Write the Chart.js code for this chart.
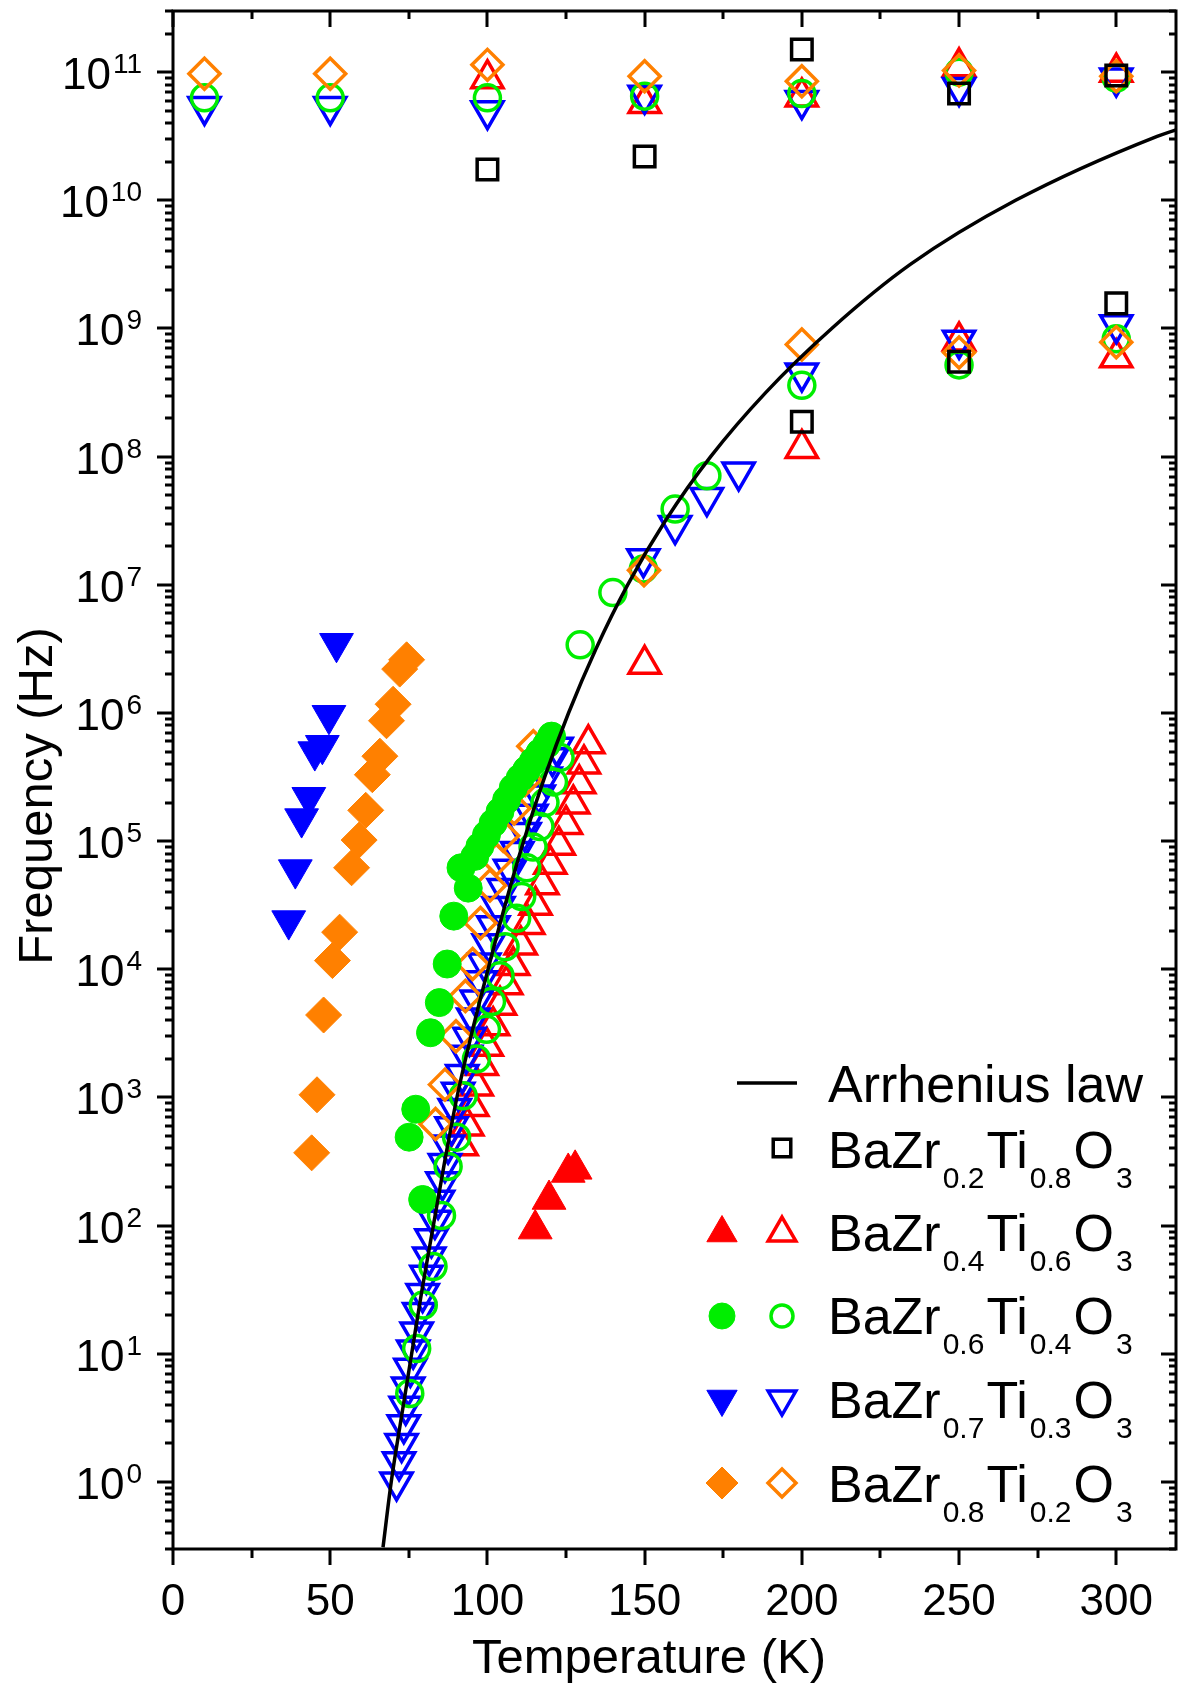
<!DOCTYPE html>
<html>
<head>
<meta charset="utf-8">
<title>Relaxation frequency vs temperature</title>
<script src="https://cdn.jsdelivr.net/npm/chart.js@4.4.1/dist/chart.umd.min.js"></script>
<style>
  html, body { margin: 0; padding: 0; background: #fff; }
  #wrap { width: 1178px; height: 1687px; }
</style>
</head>
<body>
<div id="wrap"><canvas id="freq-graph" width="1178" height="1687"></canvas></div>
<script>
// axis ranges and tick labels
var tempMin = 0, tempMax = 319;
var freqMin = 0.3, freqMax = 3e11;
var tempTicks = [0, 50, 100, 150, 200, 250, 300];
var freqDecades = [0, 1, 2, 3, 4, 5, 6, 7, 8, 9, 10, 11];

// Arrhenius law fit (T in K, f in Hz)
var arrhTemp = [66.8, 69.4, 72.6, 75.9, 79.2, 82.8, 86.4, 90.3, 95.0, 100.2, 105.6, 111.5, 118.2, 125.8, 134.5, 144.6, 156.6, 171.0, 188.5, 209.5, 234.5, 268.0, 313.0, 322.0];
var arrhFreq = [0.31, 1, 3.16, 10, 31.6, 100, 316, 1000, 3160, 1.0e4, 3.16e4, 1.0e5, 3.16e5, 1.0e6, 3.16e6, 1.0e7, 3.16e7, 1.0e8, 3.16e8, 1.0e9, 3.16e9, 1.0e10, 3.16e10, 3.75e10];

// BaZr0.2Ti0.8O3 (open squares)
var bzt20OpenTemp = [100, 150, 200, 200, 250, 250, 300, 300];
var bzt20OpenFreq = [1.74e10, 2.2e10, 1.5e11, 1.87e8, 6.8e10, 5.5e8, 9.4e10, 1.57e9];

// BaZr0.4Ti0.6O3 (up triangles)
var bzt40FilledTemp = [115.2, 119.6, 125.7, 127.9];
var bzt40FilledFreq = [94, 160, 260, 275];
var bzt40OpenTemp = [100, 150, 200, 250, 300, 150, 200, 250, 300,
  91.8, 93.6, 95.2, 96.6, 98.2, 99.8, 101.8, 104.0, 106.0, 108.2, 110.6,
  113.0, 115.3, 117.5, 120.0, 122.7, 125.0, 127.3, 129.2, 130.7, 132.1];
var bzt40OpenFreq = [8.9e10, 5.7e10, 6.4e10, 1.1e11, 1.0e11, 2.4e6, 1.16e8, 8.0e8, 5.9e8,
  420, 600, 850, 1230, 1780, 2510, 3630, 5250, 7590, 1.07e4, 1.55e4,
  2.24e4, 3.16e4, 4.57e4, 6.6e4, 9.3e4, 1.35e5, 1.95e5, 2.8e5, 4.0e5, 5.75e5];

// BaZr0.6Ti0.4O3 (circles)
var bzt60FilledTemp = [75.1, 77.2, 79.4, 81.9, 84.7, 87.2, 89.3, 91.6, 93.9, 96.0, 97.6,
  99.7, 101.8, 104.0, 106.1, 108.2, 110.4, 112.5, 114.6, 116.7, 118.9, 120.4];
var bzt60FilledFreq = [490, 810, 160, 3200, 5500, 1.1e4, 2.6e4, 6.2e4, 4.3e4, 7.6e4, 9.1e4,
  1.12e5, 1.38e5, 1.7e5, 2.1e5, 2.6e5, 3.1e5, 3.6e5, 4.2e5, 4.9e5, 5.7e5, 6.6e5];
var bzt60OpenTemp = [10, 50, 100, 150, 200, 250, 300, 200, 250, 300,
  75.3, 77.5, 79.6, 82.7, 85.4, 87.5, 90.2, 92.3, 96.5, 99.7, 101.3, 104.0, 105.6,
  109.3, 110.9, 112.5, 114.5, 116.7, 118.3, 121.0, 123.1, 129.5, 139.9, 149.6, 159.7, 169.8];
var bzt60OpenFreq = [6.3e10, 6.3e10, 6.3e10, 6.5e10, 6.8e10, 1.0e11, 9.0e10, 3.6e8, 5.2e8, 8.3e8,
  4.9, 11, 24, 48, 120, 290, 490, 1030, 2000, 3400, 5600, 8900, 1.5e4,
  2.5e4, 3.7e4, 6.2e4, 9.0e4, 1.3e5, 2.0e5, 2.9e5, 4.5e5, 3.4e6, 8.7e6, 1.33e7, 3.9e7, 7.1e7];

// BaZr0.7Ti0.3O3 (down triangles)
var bzt70FilledTemp = [52.0, 49.6, 47.5, 45.1, 43.2, 40.9, 38.9, 36.8];
var bzt70FilledFreq = [3.5e6, 9.6e5, 5.6e5, 5.0e5, 2.2e5, 1.5e5, 6.0e4, 2.4e4];
var bzt70OpenTemp = [10, 50, 100, 150, 200, 250, 300, 200, 250, 300,
  149.6, 159.7, 169.8, 179.9,
  71.1, 71.9, 72.7, 73.4, 74.0, 74.8, 75.5, 76.4, 77.5, 78.3, 79.4, 80.6, 81.5,
  82.2, 83.3, 84.3, 85.7, 86.5, 87.5, 88.6, 89.6, 90.7, 92.0, 93.2, 94.3, 95.5,
  96.6, 97.8, 99.0, 100.4, 101.9, 103.5, 105.2, 107.2, 109.5, 111.8, 114.0,
  116.3, 118.5, 120.7, 122.0];
var bzt70OpenFreq = [5.4e10, 5.4e10, 5.0e10, 6.6e10, 6.0e10, 7.6e10, 9.0e10, 4.5e8, 8.1e8, 1.07e9,
  1.6e7, 2.9e7, 4.8e7, 7.6e7,
  1.0, 1.44, 2.0, 2.8, 3.9, 5.5, 7.7, 10.7, 14.8, 21, 29.5, 41, 57,
  79, 110, 158, 220, 305, 425, 590, 820, 1100, 1510, 2140, 2950, 4170,
  5750, 8130, 1.12e4, 1.58e4, 2.19e4, 3.09e4, 4.27e4, 6.03e4, 8.32e4, 1.17e5, 1.62e5,
  2.29e5, 3.16e5, 4.47e5, 5.4e5];

// BaZr0.8Ti0.2O3 (diamonds)
var bzt80FilledTemp = [74.3, 72.1, 70.0, 67.9, 65.8, 63.4, 61.3, 59.2, 56.8, 53.0, 50.7, 47.9, 45.8, 44.1];
var bzt80FilledFreq = [2.6e6, 2.2e6, 1.17e6, 8.7e5, 4.6e5, 3.3e5, 1.74e5, 1.02e5, 6.2e4, 1.95e4, 1.17e4, 4400, 1050, 370];
var bzt80OpenTemp = [10, 50, 100, 150, 200, 250, 300, 200, 250, 300,
  83.5, 86.5, 90.0, 93.0, 95.3, 97.8, 100.8, 102.9, 105.0, 108.5, 112.0, 114.6, 149.8];
var bzt80OpenFreq = [9.7e10, 9.7e10, 1.14e11, 9.3e10, 8.5e10, 1.03e11, 9.3e10, 7.5e8, 6.5e8, 7.8e8,
  620, 1260, 3000, 6200, 1.1e4, 2.3e4, 4.5e4, 7.2e4, 1.1e5, 1.8e5, 3.0e5, 5.5e5, 1.3e7];

// legend text
var arrhLabel = 'Arrhenius law';
var zrFractions = ['0.2', '0.4', '0.6', '0.7', '0.8'];
var tiFractions = ['0.8', '0.6', '0.4', '0.3', '0.2'];

var FONT = '"Liberation Sans", Arial, Helvetica, sans-serif';
var RED = '#ff0000', GREEN = '#00ee00', BLUE = '#0000ff', ORANGE = '#ff8000';
var CLEAR = 'rgba(0,0,0,0)';

function toPoints(xs, ys) {
    return xs.map(function(x, i) { return { x: x, y: ys[i] }; });
}

function markerSet(label, xs, ys, style, color, filled, radius, rotation) {
    return {
        label: label,
        data: toPoints(xs, ys),
        showLine: false,
        pointStyle: style,
        pointRadius: radius,
        pointRotation: rotation || 0,
        pointBackgroundColor: filled ? color : CLEAR,
        pointBorderColor: color,
        pointBorderWidth: filled ? 1 : 3.5
    };
}

function drawMarker(ctx, style, color, filled, radius, rotation, x, y) {
    ctx.save();
    ctx.fillStyle = filled ? color : CLEAR;
    ctx.strokeStyle = color;
    ctx.lineWidth = filled ? 1 : 3.5;
    Chart.helpers.drawPoint(ctx, {
        pointStyle: style, radius: radius, rotation: rotation || 0,
        borderWidth: filled ? 1 : 3.5
    }, x, y);
    ctx.restore();
}

// frame, ticks, tick labels, axis titles and legend
var decorPlugin = {
    id: 'decor',
    afterDraw: function(chart) {
        var ctx = chart.ctx;
        var a = chart.chartArea;
        var xs = chart.scales.x, ys = chart.scales.y;
        ctx.save();
        ctx.strokeStyle = '#000';
        ctx.fillStyle = '#000';
        ctx.lineWidth = 3;
        ctx.strokeRect(a.left, a.top, a.right - a.left, a.bottom - a.top);

        ctx.beginPath();
        for (var t = tempMin; t <= tempMax; t += 25) {
            var px = Math.round(xs.getPixelForValue(t));
            var major = t % 50 === 0;
            ctx.moveTo(px, a.bottom); ctx.lineTo(px, a.bottom + (major ? 16 : 9));
            ctx.moveTo(px, a.top); ctx.lineTo(px, a.top + (major ? 16 : 8));
        }
        for (var e = -1; e <= 11; e++) {
            for (var k = 1; k <= 9; k++) {
                var v = k * Math.pow(10, e);
                if (v < freqMin || v > freqMax * 1.001) continue;
                var py = Math.round(ys.getPixelForValue(v));
                var maj = k === 1;
                ctx.moveTo(a.left, py); ctx.lineTo(a.left - (maj ? 16 : 8), py);
                ctx.moveTo(a.right, py); ctx.lineTo(a.right - (maj ? 15 : 7), py);
            }
        }
        ctx.stroke();

        // temperature tick labels
        ctx.font = '44px ' + FONT;
        ctx.textAlign = 'center';
        ctx.textBaseline = 'alphabetic';
        tempTicks.forEach(function(t) {
            ctx.fillText(String(t), xs.getPixelForValue(t), a.bottom + 66);
        });

        // frequency tick labels, 10 with superscript exponent
        freqDecades.forEach(function(p) {
            var py = ys.getPixelForValue(Math.pow(10, p));
            ctx.font = '28px ' + FONT;
            ctx.textAlign = 'right';
            var expW = ctx.measureText(String(p)).width;
            ctx.fillText(String(p), 142, py + 1);
            ctx.font = '44px ' + FONT;
            ctx.fillText('10', 142 - expW - 2, py + 17);
        });

        // axis titles
        ctx.font = '49px ' + FONT;
        ctx.textAlign = 'center';
        ctx.fillText('Temperature (K)', 649, 1673);
        ctx.save();
        ctx.translate(52, 796);
        ctx.rotate(-Math.PI / 2);
        ctx.fillText('Frequency (Hz)', 0, 0);
        ctx.restore();

        // legend
        var tx = 828;
        ctx.lineWidth = 3.5;
        ctx.beginPath();
        ctx.moveTo(737, 1083); ctx.lineTo(797, 1083);
        ctx.stroke();
        ctx.font = '52px ' + FONT;
        ctx.textAlign = 'left';
        ctx.fillText(arrhLabel, tx, 1102);

        var rows = [
            { y: 1148, base: 1168, filled: null, open: ['rect', '#000', 12.4, 0] },
            { y: 1233, base: 1251, filled: ['triangle', RED, 17.5, 0], open: ['triangle', RED, 16, 0] },
            { y: 1316, base: 1334, filled: ['circle', GREEN, 13, 0], open: ['circle', GREEN, 11, 0] },
            { y: 1399, base: 1418, filled: ['triangle', BLUE, 17.5, 180], open: ['triangle', BLUE, 16, 180] },
            { y: 1483, base: 1502, filled: ['rectRot', ORANGE, 16, 0], open: ['rectRot', ORANGE, 14, 0] }
        ];
        rows.forEach(function(r, i) {
            if (r.filled) drawMarker(ctx, r.filled[0], r.filled[1], true, r.filled[2], r.filled[3], 722, r.y);
            drawMarker(ctx, r.open[0], r.open[1], false, r.open[2], r.open[3], 782, r.y);
            var parts = [['BaZr', 0], [zrFractions[i], 1], ['Ti', 0], [tiFractions[i], 1], ['O', 0], ['3', 1]];
            var x = tx;
            ctx.fillStyle = '#000';
            parts.forEach(function(p) {
                ctx.font = (p[1] ? '30px ' : '52px ') + FONT;
                ctx.fillText(p[0], x, p[1] ? r.base + 20 : r.base);
                x += ctx.measureText(p[0]).width + 2;
            });
        });
        ctx.restore();
    }
};

var ctxFreq = document.getElementById('freq-graph').getContext('2d');
var freqChart = new Chart(ctxFreq, {
    type: 'scatter',
    data: {
        datasets: [
            {
                label: 'Arrhenius law',
                type: 'line',
                data: toPoints(arrhTemp, arrhFreq),
                showLine: true,
                borderColor: '#000',
                borderWidth: 3.5,
                pointRadius: 0,
                fill: false,
                cubicInterpolationMode: 'monotone'
            },
            markerSet('BaZr0.2Ti0.8O3', bzt20OpenTemp, bzt20OpenFreq, 'rect', '#000', false, 14.5),
            markerSet('BaZr0.6Ti0.4O3 filled', bzt60FilledTemp, bzt60FilledFreq, 'circle', GREEN, true, 14),
            markerSet('BaZr0.8Ti0.2O3 open', bzt80OpenTemp, bzt80OpenFreq, 'rectRot', ORANGE, false, 15.5),
            markerSet('BaZr0.6Ti0.4O3 open', bzt60OpenTemp, bzt60OpenFreq, 'circle', GREEN, false, 13),
            markerSet('BaZr0.7Ti0.3O3 open', bzt70OpenTemp, bzt70OpenFreq, 'triangle', BLUE, false, 18, 180),
            markerSet('BaZr0.4Ti0.6O3 open', bzt40OpenTemp, bzt40OpenFreq, 'triangle', RED, false, 18),
            markerSet('BaZr0.4Ti0.6O3 filled', bzt40FilledTemp, bzt40FilledFreq, 'triangle', RED, true, 19.5),
            markerSet('BaZr0.7Ti0.3O3 filled', bzt70FilledTemp, bzt70FilledFreq, 'triangle', BLUE, true, 19.5, 180),
            markerSet('BaZr0.8Ti0.2O3 filled', bzt80FilledTemp, bzt80FilledFreq, 'rectRot', ORANGE, true, 18)
        ]
    },
    options: {
        responsive: false,
        animation: false,
        events: [],
        layout: { autoPadding: false, padding: { left: 173, right: 2, top: 11, bottom: 138 } },
        scales: {
            x: { type: 'linear', min: tempMin, max: tempMax, display: false },
            y: { type: 'logarithmic', min: freqMin, max: freqMax, display: false }
        },
        plugins: {
            legend: { display: false },
            tooltip: { enabled: false }
        }
    },
    plugins: [decorPlugin]
});
</script>
</body>
</html>
